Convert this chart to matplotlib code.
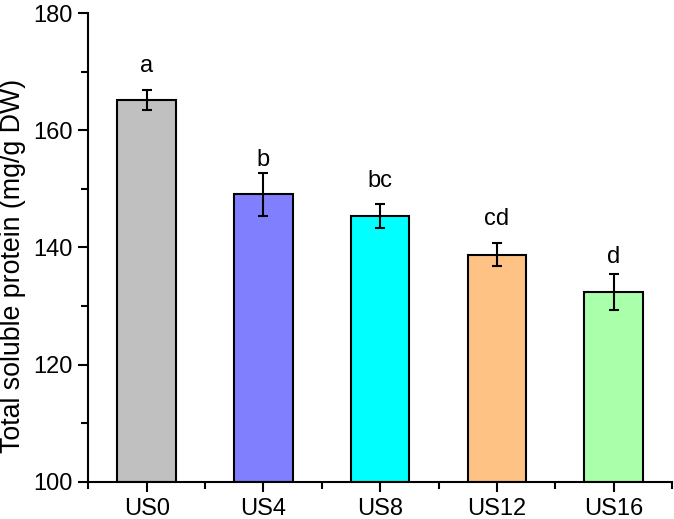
import matplotlib.pyplot as plt
from matplotlib.ticker import MultipleLocator

# data
groups = ["US0", "US4", "US8", "US12", "US16"]
protein = [165.2, 149.1, 145.4, 138.8, 132.35]
sd = [1.65, 3.7, 2.05, 1.9, 3.05]
letters = ["a", "b", "bc", "cd", "d"]
letter_y = [170.0, 153.9, 150.4, 143.8, 137.3]  # baseline of each letter
bar_colors = ["#C0C0C0", "#8080FF", "#00FFFF", "#FFC285", "#AAFFAA"]

plt.rcParams['font.family'] = ['Liberation Sans', 'DejaVu Sans']

fig = plt.figure(figsize=(6.74, 5.19), dpi=100)
ax = fig.add_axes([0.131, 0.0719, 0.866, 0.9025])

x = list(range(1, len(groups) + 1))
ax.bar(x, [p - 100 for p in protein], bottom=100, width=0.5, color=bar_colors,
       edgecolor='black', linewidth=1.5, zorder=2)
ax.errorbar(x, protein, yerr=sd, fmt='none', ecolor='black', elinewidth=1.5,
            capsize=3.3, capthick=1.5, zorder=3)

for xi, lab, ly in zip(x, letters, letter_y):
    ax.text(xi, ly, lab, ha='center', va='baseline', fontsize=17)

ax.set_xlim(0.5, 5.5)
ax.set_ylim(100, 180)
ax.set_xticks(x)
ax.set_xticklabels(groups)
ax.xaxis.set_minor_locator(MultipleLocator(1, offset=0.5))
ax.yaxis.set_major_locator(MultipleLocator(20))
ax.yaxis.set_minor_locator(MultipleLocator(10))

for s in ['top', 'right']:
    ax.spines[s].set_visible(False)
for s in ['left', 'bottom']:
    ax.spines[s].set_linewidth(1.5)

ax.tick_params(which='major', direction='out', length=7.5, width=1.5, labelsize=17, pad=4)
ax.tick_params(which='minor', direction='out', length=5, width=1.5)

ax.set_ylabel("Total soluble protein (mg/g DW)", fontsize=19.3)
ax.yaxis.set_label_coords(-0.107, 0.461)

fig.savefig("out.png", dpi=100)
